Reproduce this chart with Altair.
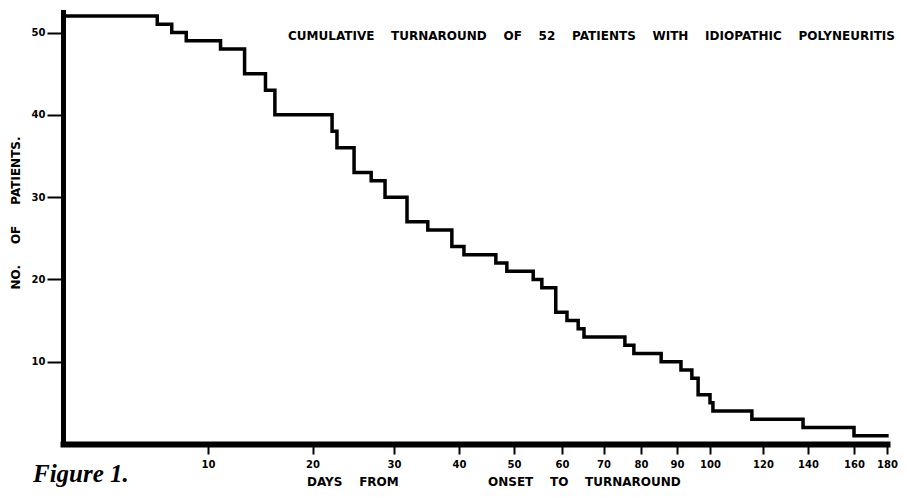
import altair as alt
import pandas as pd

# --- data ---
days = [0, 6.5, 7.5, 8.5, 11.2, 13.5, 15.5, 16.4, 22.4, 23, 25.1, 27.2, 28.9,
        32, 35.2, 38.9, 40.9, 46.7, 48.7, 54, 55.8, 58.7, 61.2, 63.9, 65.3,
        75.7, 78.1, 85.6, 91.2, 94.5, 96.4, 100, 101.1, 115.8, 137.8, 160, 181]
patients = [52, 51, 50, 49, 48, 45, 43, 40, 38, 36, 33, 32, 30,
            27, 26, 24, 23, 22, 21, 20, 19, 16, 15, 14, 13,
            12, 11, 10, 9, 8, 6, 5, 4, 3, 2, 1, 1]
x_ticks = [10, 20, 30, 40, 50, 60, 70, 80, 90, 100, 120, 140, 160, 180]
y_ticks = [10, 20, 30, 40, 50]

title_words = ["CUMULATIVE", "TURNAROUND", "OF", "52", "PATIENTS", "WITH", "IDIOPATHIC", "POLYNEURITIS"]
ytitle_words = ["NO.", "OF", "PATIENTS."]
xtitle_left = ["DAYS", "FROM"]
xtitle_right = ["ONSET", "TO", "TURNAROUND"]

NB = "\u00a0"
def spaced(words, n=4):
    return (NB * n).join(words)

df = pd.DataFrame({"days": days, "patients": patients})

FONT = "DejaVu Sans"
W, H = 826, 432

# hand-drawn, non-uniform day axis of the original: piecewise-linear scale
x_scale = alt.Scale(
    domain=[0, 10, 20, 30, 40, 50, 60, 70, 80, 90, 100, 120, 140, 160, 180],
    range=[0, 145, 249.5, 331, 396, 451, 499, 540.5, 578, 614, 647, 700, 745, 791, 824],
    nice=False, zero=False,
)
y_scale = alt.Scale(domain=[0, 52.5], nice=False, zero=False)

line = alt.Chart(df).mark_line(
    interpolate="step-after", color="black", strokeWidth=3.5, clip=False
).encode(
    x=alt.X("days:Q", scale=x_scale,
            axis=alt.Axis(values=x_ticks, title=None, grid=False,
                          domainColor="black", domainWidth=6, domainCap="square",
                          tickColor="black", tickWidth=2, tickSize=10,
                          labelFont=FONT, labelFontWeight="bold", labelFontSize=10,
                          labelColor="black", labelPadding=5, labelFlush=False)),
    y=alt.Y("patients:Q", scale=y_scale,
            axis=alt.Axis(values=y_ticks, title=None, grid=False,
                          domainColor="black", domainWidth=5, domainCap="square",
                          tickColor="black", tickWidth=2, tickSize=16,
                          labelFont=FONT, labelFontWeight="bold", labelFontSize=10,
                          labelColor="black", labelPadding=2)),
)

def label(text, x, y, **kw):
    props = dict(font=FONT, fontWeight="bold", fontSize=12, color="black",
                 align="left", baseline="middle")
    props.update(kw)
    return alt.Chart(pd.DataFrame({"t": [text]})).mark_text(**props).encode(
        text="t:N", x=alt.value(x), y=alt.value(y))

title = label(spaced(title_words), 225, 24)
xt1 = label(spaced(xtitle_left), 244, 470)
xt2 = label(spaced(xtitle_right), 425, 470)
yt = label(spaced(ytitle_words, 5), -47, 201, angle=270, align="center")
fig = label("Figure 1.", -30, 470, font="Liberation Serif", fontStyle="italic",
            fontSize=25, baseline="alphabetic")

chart = alt.layer(line, title, xt1, xt2, yt, fig).properties(
    width=W, height=H,
    background="white",
    autosize=alt.AutoSizeParams(type="none"),
    padding={"left": 55, "top": 4, "right": 12, "bottom": 46},
).configure_view(strokeWidth=0, stroke="transparent")

chart.save("out.html", embed_options={"renderer": "svg", "actions": False})
